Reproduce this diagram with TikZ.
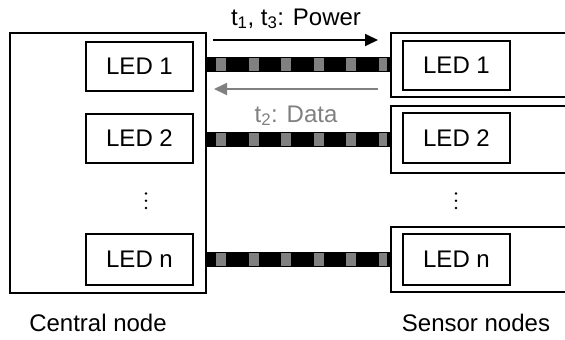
\documentclass[tikz,border=0pt]{standalone}
\usepackage{fontspec}
\setmainfont{Liberation Sans}
\usetikzlibrary{arrows.meta}
\definecolor{midgray}{HTML}{808080}
\begin{document}
\begin{tikzpicture}[x=1pt,y=-1pt,
  box/.style={draw, line width=1.8pt, inner sep=0pt},
  led/.style={box, minimum width=107pt, font=\fontsize{24}{28}\selectfont},
  lbl/.style={font=\fontsize{24}{28}\selectfont, inner sep=0pt, anchor=base},
  cable/.style={line width=15pt, black},
  marks/.style={line width=12.5pt, midgray, dash pattern=on 10pt off 22.6pt},
  flow/.style={line width=1.8pt, -{Triangle[length=13pt,width=12pt]}},
  dot/.style={fill=black}
]
\clip (0,0) rectangle (565,340);
% central node
\node[box, minimum width=196pt, minimum height=260pt] (central) at (108,163) {};
\node[led, minimum height=49pt] (l1) at (139.5,66.5) {LED 1};
\node[led, minimum height=49pt] (l2) at (139.5,138.5) {LED 2};
\node[led, minimum height=51pt] (ln) at (139.5,259.5) {LED n};
% sensor nodes
\node[box, minimum width=184pt, minimum height=64pt] (s1) at (483,65) {};
\node[box, minimum width=184pt, minimum height=67pt] (s2) at (483,139.5) {};
\node[box, minimum width=184pt, minimum height=65pt] (sn) at (483,259.5) {};
\node[led, minimum height=49pt] (r1) at (456.5,65.5) {LED 1};
\node[led, minimum height=50pt] (r2) at (456.5,138) {LED 2};
\node[led, minimum height=51pt] (rn) at (456.5,259.5) {LED n};
% cables
\coordinate (c1) at (0,64.5);
\coordinate (c2) at (0,139.5);
\coordinate (cn) at (0,259.5);
\foreach \c/\s in {c1/s1,c2/s2,cn/sn}{
  \draw[cable] (central.east |- \c) -- (\s.west |- \c);
  \draw[marks] ([xshift=9pt]central.east |- \c) -- ([xshift=-3pt]\s.west |- \c);
}
% arrows
\coordinate (pa) at (213,40);
\coordinate (pb) at (378,40);
\coordinate (da) at (378,89);
\coordinate (db) at (214,89);
\draw[flow] (pa) -- (pb);
\draw[flow, midgray] (da) -- (db);
\node[lbl] (power) at (296,25) {t\textsubscript{1}, t\textsubscript{3}: Power};
\node[lbl, text=midgray] (data) at (296,122) {t\textsubscript{2}: Data};
% dots
\foreach \y in {193.5,200.7,208}{
  \fill[dot] (146,\y) circle (1.4pt);
  \fill[dot] (456,\y) circle (1.4pt);
}
% labels
\node[lbl] (cl) at (98,331) {Central node};
\node[lbl] (sl) at (476,331) {Sensor nodes};
\end{tikzpicture}
\end{document}
